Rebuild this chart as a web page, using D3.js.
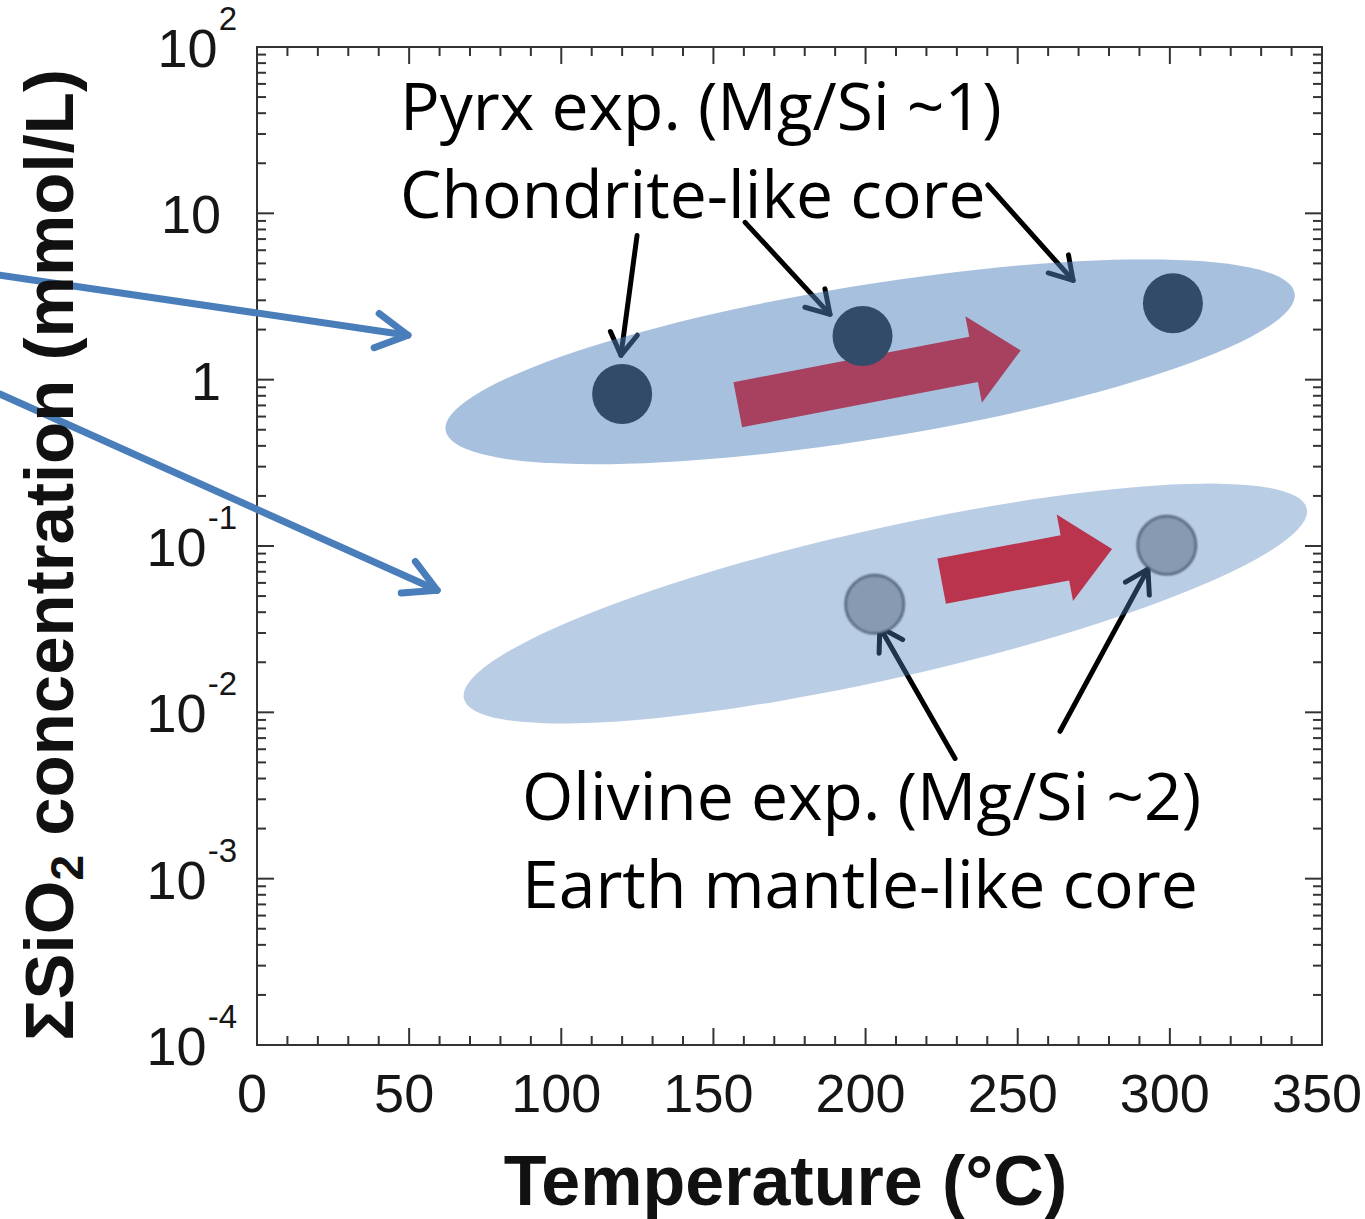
<!DOCTYPE html>
<html>
<head>
<meta charset="utf-8">
<script src="https://cdn.jsdelivr.net/npm/d3@7"></script>
<style>
  body { margin: 0; background: #fff; }
</style>
</head>
<body>
<div id="chart"></div>
<script>
// ---- data ----
const tempTicks = [0, 50, 100, 150, 200, 250, 300, 350];
const concTicks = [1e2, 1e1, 1, 1e-1, 1e-2, 1e-3, 1e-4];
const concTickLabels = [["10", "2"], ["10", ""], ["1", ""], ["10", "-1"], ["10", "-2"], ["10", "-3"], ["10", "-4"]];

// experiments: temperature (°C), SiO2 (mmol/L)
const pyrxPoints = [{ t: 120, c: 0.82 }, { t: 199, c: 1.83 }, { t: 301, c: 2.88 }];
const olivinePoints = [{ t: 203, c: 0.0446 }, { t: 299, c: 0.101 }];

// shaded ranges, given by their two ends
const pyrxRange = [{ t: 62, c: 0.495 }, { t: 341, c: 3.31 }];
const olivineRange = [{ t: 68, c: 0.0121 }, { t: 345, c: 0.168 }];

// red trend arrows (tail -> tip)
const trendArrows = [
    [{ t: 158, c: 0.707 }, { t: 251, c: 1.50 }],
    [{ t: 225, c: 0.0615 }, { t: 281, c: 0.096 }]
];

// black pointer arrows from the notes to the points
const pointerArrows = [
    [{ t: 124.9, c: 7.36 }, { t: 119.6, c: 1.40 }],
    [{ t: 160.4, c: 8.83 }, { t: 188.3, c: 2.47 }],
    [{ t: 240.2, c: 14.8 }, { t: 268.2, c: 3.95 }],
    [{ t: 229.4, c: 0.00528 }, { t: 204.7, c: 0.0325 }],
    [{ t: 263.9, c: 0.00769 }, { t: 292.8, c: 0.0726 }]
];

// blue arrows coming in from the left of the figure
const sideArrows = [
    [{ t: -84.5, c: 4.25 }, { t: 49.6, c: 1.85 }],
    [{ t: -84.5, c: 0.82 }, { t: 59.2, c: 0.0542 }]
];

const notes = [
    { t: 47, c: 31.7, text: "Pyrx exp. (Mg/Si ~1)" },
    { t: 47, c: 9.36, text: "Chondrite-like core" },
    { t: 87.1, c: 0.00224, text: "Olivine exp. (Mg/Si ~2)" },
    { t: 87.1, c: 0.000662, text: "Earth mantle-like core" }
];

// ---- layout ----
var margin = { top: 47, right: 43, bottom: 174, left: 257 },
    W = 1365, H = 1219,
    width = W - margin.left - margin.right,
    height = H - margin.top - margin.bottom;

var svg = d3.select("#chart").append("svg")
    .attr("width", W)
    .attr("height", H)
    .style("display", "block");

var g = svg.append("g")
    .attr("transform", "translate(" + margin.left + "," + margin.top + ")");

var x = d3.scaleLinear().domain([0, 350]).range([0, width]);
var y = d3.scaleLog().domain([1e-4, 1e2]).range([height, 0]);

const px = d => [x(d.t), y(d.c)];

// ---- pointer arrows (drawn first: the shaded ranges sit over them) ----
function chevron(p0, p1, len, ang) {
    var dx = p1[0] - p0[0], dy = p1[1] - p0[1];
    var a = Math.atan2(dy, dx) + Math.PI;
    var l = [p1[0] + len * Math.cos(a + ang), p1[1] + len * Math.sin(a + ang)];
    var r = [p1[0] + len * Math.cos(a - ang), p1[1] + len * Math.sin(a - ang)];
    return "M" + l + "L" + p1 + "L" + r;
}

var pointers = g.append("g").attr("class", "pointers")
    .attr("stroke", "#000").attr("fill", "none")
    .attr("stroke-width", 5).attr("stroke-linecap", "round").attr("stroke-linejoin", "round");
pointers.selectAll("line").data(pointerArrows).join("line")
    .attr("x1", d => x(d[0].t)).attr("y1", d => y(d[0].c))
    .attr("x2", d => x(d[1].t)).attr("y2", d => y(d[1].c));
pointers.selectAll("path").data(pointerArrows).join("path")
    .attr("d", d => chevron(px(d[0]), px(d[1]), 26, 0.55));

// ---- red trend arrows ----
function blockArrow(p0, p1, w, hw, hl) {
    var dx = p1[0] - p0[0], dy = p1[1] - p0[1];
    var len = Math.hypot(dx, dy);
    var ux = dx / len, uy = dy / len, nx = -uy, ny = ux;
    var bx = p1[0] - ux * hl, by = p1[1] - uy * hl;
    var pts = [
        [p0[0] + nx * w, p0[1] + ny * w],
        [bx + nx * w, by + ny * w],
        [bx + nx * hw, by + ny * hw],
        p1,
        [bx - nx * hw, by - ny * hw],
        [bx - nx * w, by - ny * w],
        [p0[0] - nx * w, p0[1] - ny * w]
    ];
    return "M" + pts.join("L") + "Z";
}

g.append("g").selectAll("path").data(trendArrows).join("path")
    .attr("d", d => blockArrow(px(d[0]), px(d[1]), 23, 44, 48))
    .attr("fill", "#ff0000");

// ---- experiment points ----
var defs = svg.append("defs");
defs.append("filter").attr("id", "soft")
    .append("feGaussianBlur").attr("stdDeviation", 1.2);

g.append("g").selectAll("circle").data(pyrxPoints).join("circle")
    .attr("cx", d => x(d.t)).attr("cy", d => y(d.c))
    .attr("r", 30)
    .attr("fill", "#151515");

g.append("g").selectAll("circle").data(olivinePoints).join("circle")
    .attr("cx", d => x(d.t)).attr("cy", d => y(d.c))
    .attr("r", 29)
    .attr("fill", "#acaaa8")
    .attr("stroke", "#111")
    .attr("stroke-width", 2)
    .attr("filter", "url(#soft)");

// ---- shaded ranges ----
function rangeEllipse(sel, ends, halfW, opacity) {
    var a = px(ends[0]), b = px(ends[1]);
    var cx = (a[0] + b[0]) / 2, cy = (a[1] + b[1]) / 2;
    var ang = Math.atan2(b[1] - a[1], b[0] - a[0]) * 180 / Math.PI;
    sel.append("ellipse")
        .attr("cx", 0).attr("cy", 0)
        .attr("rx", Math.hypot(b[0] - a[0], b[1] - a[1]) / 2)
        .attr("ry", halfW)
        .attr("transform", "translate(" + cx + "," + cy + ") rotate(" + ang + ")")
        .attr("fill", "#4f81bd")
        .attr("fill-opacity", opacity);
}
var ranges = g.append("g");
rangeEllipse(ranges, pyrxRange, 77, 0.5);
rangeEllipse(ranges, olivineRange, 75, 0.4);

// ---- frame and ticks (inward on all four sides) ----
var frame = g.append("g").attr("stroke", "#333").attr("stroke-width", 2);
frame.append("rect")
    .attr("width", width).attr("height", height)
    .attr("fill", "none");

var minorT = d3.range(0, 351, 10).filter(v => v % 50 !== 0);
var minorC = [];
d3.range(-4, 2).forEach(e => d3.range(2, 10).forEach(m => minorC.push(m * Math.pow(10, e))));

function xTicks(vals, len) {
    frame.selectAll(null).data(vals).join("line")
        .attr("x1", d => x(d)).attr("x2", d => x(d))
        .attr("y1", height).attr("y2", height - len);
    frame.selectAll(null).data(vals).join("line")
        .attr("x1", d => x(d)).attr("x2", d => x(d))
        .attr("y1", 0).attr("y2", len);
}
function yTicks(vals, len) {
    frame.selectAll(null).data(vals).join("line")
        .attr("y1", d => y(d)).attr("y2", d => y(d))
        .attr("x1", 0).attr("x2", len);
    frame.selectAll(null).data(vals).join("line")
        .attr("y1", d => y(d)).attr("y2", d => y(d))
        .attr("x1", width).attr("x2", width - len);
}
xTicks(minorT, 9);
xTicks(tempTicks, 17);
yTicks(minorC, 9);
yTicks(concTicks, 17);

// ---- tick labels ----
var tickFont = "'Liberation Sans', Arial, sans-serif";

g.append("g").selectAll("text").data(tempTicks).join("text")
    .attr("x", d => x(d) - 5)
    .attr("y", height + 67)
    .attr("text-anchor", "middle")
    .attr("font-family", tickFont)
    .attr("font-size", 54)
    .attr("fill", "#161616")
    .text(d => d);

var ylab = g.append("g").selectAll("text").data(concTicks).join("text")
    .attr("x", (d, i) => concTickLabels[i][1] ? -20 : -36)
    .attr("y", d => y(d) + 20)
    .attr("text-anchor", "end")
    .attr("font-family", tickFont)
    .attr("font-size", 54)
    .attr("fill", "#161616");
ylab.append("tspan").text((d, i) => concTickLabels[i][0]);
ylab.append("tspan")
    .attr("dx", 1)
    .attr("dy", -37)
    .attr("font-size", 33)
    .text((d, i) => concTickLabels[i][1]);

// ---- axis titles ----
svg.append("text")
    .attr("x", margin.left + width / 2 - 4)
    .attr("y", 1205)
    .attr("text-anchor", "middle")
    .attr("font-family", tickFont)
    .attr("font-weight", "bold")
    .attr("font-size", 70)
    .attr("fill", "#111")
    .text("Temperature (°C)");

var yTitle = svg.append("text")
    .attr("transform", "translate(73," + 555 + ") rotate(-90)")
    .attr("text-anchor", "middle")
    .attr("font-family", tickFont)
    .attr("font-weight", "bold")
    .attr("font-size", 69)
    .attr("fill", "#111");
yTitle.append("tspan").text("ΣSiO");
yTitle.append("tspan").attr("font-size", 46).attr("dy", 10).text("2");
yTitle.append("tspan").attr("dy", -10).text(" concentration (mmol/L)");

// ---- notes ----
g.append("g").selectAll("text").data(notes).join("text")
    .attr("x", d => x(d.t))
    .attr("y", d => y(d.c))
    .attr("font-family", "'Open Sans', sans-serif")
    .attr("font-size", 66)
    .attr("fill", "#000")
    .text(d => d.text);

// ---- blue side arrows (on top of everything) ----
var side = g.append("g")
    .attr("stroke", "#4a7ebb").attr("fill", "none")
    .attr("stroke-width", 7).attr("stroke-linecap", "round").attr("stroke-linejoin", "round");
side.selectAll("line").data(sideArrows).join("line")
    .attr("x1", d => x(d[0].t)).attr("y1", d => y(d[0].c))
    .attr("x2", d => x(d[1].t)).attr("y2", d => y(d[1].c));
side.selectAll("path").data(sideArrows).join("path")
    .attr("d", d => chevron(px(d[0]), px(d[1]), 36, 0.5));
</script>
</body>
</html>
